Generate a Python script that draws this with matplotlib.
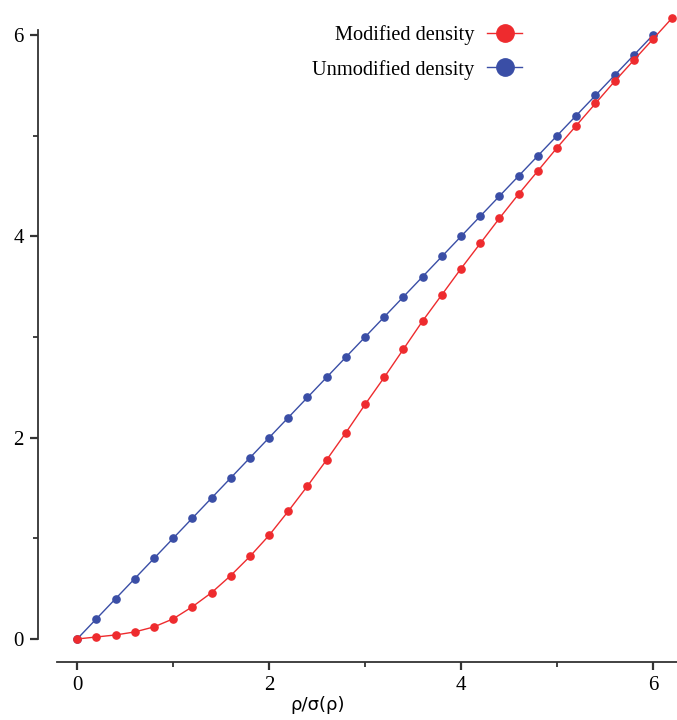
import matplotlib.pyplot as plt
from matplotlib.ticker import MultipleLocator

# data
x_mod = [0.0, 0.2, 0.4, 0.6, 0.8, 1.0, 1.2, 1.4, 1.6, 1.8, 2.0, 2.2, 2.4, 2.6, 2.8, 3.0,
         3.2, 3.4, 3.6, 3.8, 4.0, 4.2, 4.4, 4.6, 4.8, 5.0, 5.2, 5.4, 5.6, 5.8, 6.0, 6.2]
y_mod = [0.0, 0.02, 0.04, 0.07, 0.12, 0.2, 0.32, 0.46, 0.63, 0.82, 1.03, 1.27, 1.52, 1.78,
         2.05, 2.33, 2.6, 2.88, 3.16, 3.42, 3.68, 3.93, 4.18, 4.42, 4.65, 4.88, 5.1, 5.32,
         5.54, 5.75, 5.96, 6.17]
x_unmod = [0.0, 0.2, 0.4, 0.6, 0.8, 1.0, 1.2, 1.4, 1.6, 1.8, 2.0, 2.2, 2.4, 2.6, 2.8, 3.0,
           3.2, 3.4, 3.6, 3.8, 4.0, 4.2, 4.4, 4.6, 4.8, 5.0, 5.2, 5.4, 5.6, 5.8, 6.0]
y_unmod = [0.0, 0.2, 0.4, 0.6, 0.8, 1.0, 1.2, 1.4, 1.6, 1.8, 2.0, 2.2, 2.4, 2.6, 2.8, 3.0,
           3.2, 3.4, 3.6, 3.8, 4.0, 4.2, 4.4, 4.6, 4.8, 5.0, 5.2, 5.4, 5.6, 5.8, 6.0]
labels = ['Modified density', 'Unmodified density']

red = '#ee2b2e'
blue = '#3a4ea6'

plt.rcParams['font.family'] = ['Liberation Serif', 'DejaVu Serif']

fig = plt.figure(figsize=(6.77, 7.2), dpi=100)
ax = fig.add_axes([57 / 677, 80 / 720, 620 / 677, 610 / 720])

ax.plot(x_unmod, y_unmod, color=blue, lw=1.0, marker='o', ms=5.2, clip_on=False,
        label=labels[1], zorder=3)
ax.plot(x_mod, y_mod, color=red, lw=1.0, marker='o', ms=5.2, clip_on=False,
        label=labels[0], zorder=4)

ax.set_xlim(-0.21, 6.25)
ax.set_ylim(-0.01, 6.05)

for s in ['top', 'right']:
    ax.spines[s].set_visible(False)
ax.spines['left'].set_position(('outward', 14))
ax.spines['bottom'].set_position(('outward', 16))
ax.spines['left'].set_bounds(0, 6.05)
ax.spines['left'].set_linewidth(1.3)
ax.spines['bottom'].set_linewidth(1.3)
ax.spines['left'].set_color('#333333')
ax.spines['bottom'].set_color('#333333')

ax.xaxis.set_major_locator(MultipleLocator(2))
ax.xaxis.set_minor_locator(MultipleLocator(1))
ax.yaxis.set_major_locator(MultipleLocator(2))
ax.yaxis.set_minor_locator(MultipleLocator(1))
ax.tick_params(which='major', direction='out', length=6, width=1.6, labelsize=15,
               color='#333333', pad=4)
ax.tick_params(which='minor', direction='out', length=3.5, width=1.3, color='#333333')
ax.set_xticks([0, 2, 4, 6])
ax.set_xticklabels(['0', '2', '4', '6'])

ax.set_xlabel('ρ/σ(ρ)', family='DejaVu Sans', fontsize=13)
ax.xaxis.set_label_coords((318 - 57) / 620, -0.091)

h, l = ax.get_legend_handles_labels()
leg = ax.legend(h[::-1], l[::-1], loc='upper right', bbox_to_anchor=(522 / 677, 695 / 720),
                bbox_transform=fig.transFigure, frameon=False, markerfirst=False,
                fontsize=14.7, markerscale=2.4, handlelength=1.7, handletextpad=0.65,
                labelspacing=0.72, borderpad=0.0, borderaxespad=0.0)

fig.savefig('out.png', dpi=100)
